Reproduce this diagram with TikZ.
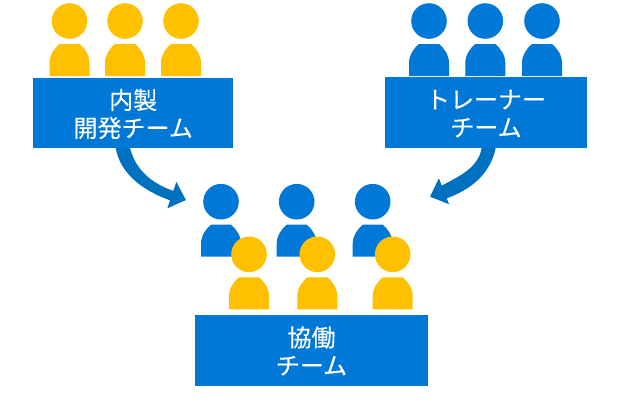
\documentclass[tikz,border=0pt]{standalone}
\usepackage{fontspec}
\setmainfont[FakeBold=0.25]{Noto Sans CJK JP}
\usepackage{xcolor}
\usepackage{tikz}
\usetikzlibrary{arrows.meta,calc}

\definecolor{teamblue}{HTML}{0078D7}
\definecolor{teamyellow}{HTML}{FFC000}
\definecolor{arrowblue}{HTML}{0070C0}

\tikzset{
  teambox/.style={fill=teamblue, text=white, align=center, inner sep=0pt,
    font=\fontsize{24}{28}\selectfont, text height=50pt, text depth=2pt},
  joinarrow/.style={draw=arrowblue, line width=9pt,
    -{Triangle[length=15pt,width=27pt]}},
  pics/person/.style={code={
    \fill[#1] (0,-55) circle (17.8);
    \fill[#1] (-20,0) -- (-20,-13) .. controls (-20,-21) and (-15,-28) .. (-10,-32)
      -- (10,-32) .. controls (15,-28) and (20,-21) .. (20,-13) -- (20,0) -- cycle;
  }}
}

\begin{document}
\begin{tikzpicture}[x=1pt, y=-1pt]
  \useasboundingbox (0,0) rectangle (620,400);

  % upper teams
  \foreach \x in {69.5, 125, 181} {
    \pic at (\x,76) {person={teamyellow}};
  }
  \foreach \x in {429, 485.3, 542} {
    \pic at (\x,76) {person={teamblue}};
  }

  % joined team, blue row behind the yellow row
  \foreach \x in {221, 296.7, 372.7} {
    \pic at (\x,256.7) {person={teamblue}};
  }
  \foreach \x in {249, 317.3, 392.7} {
    \pic at (\x,309.3) {person={teamyellow}};
  }

  \node[teambox, minimum width=200.5pt, minimum height=70.5pt] (naisei) at (133.2,113) {内製\\開発チーム};
  \node[teambox, minimum width=201.5pt, minimum height=71pt] (trainer) at (486,112.5) {トレーナー\\チーム};
  \node[teambox, minimum width=232.5pt, minimum height=70.5pt] (kyodo) at (311.5,350.5) {協働\\チーム};

  \coordinate (naiseiend) at (186,200);
  \coordinate (trainerend) at (430,196.7);

  % shafts get thinner towards the head
  \fill[arrowblue] (115.7,148) .. controls (120,172) and (140,190) .. (172,201)
    -- (174,192) .. controls (150,182) and (136,170) .. (130,148) -- cycle;
  \fill[arrowblue] (481.7,148) .. controls (478,168) and (460,176) .. (439,187)
    -- (445,199) .. controls (470,190) and (490,175) .. (495.7,148) -- cycle;

  \draw[joinarrow] ([xshift=-10pt]naisei.south) .. controls (128,172) and (148,187) .. (naiseiend);
  \draw[joinarrow] ([xshift=3pt]trainer.south) .. controls (485,172) and (465,183) .. (trainerend);
\end{tikzpicture}
\end{document}
